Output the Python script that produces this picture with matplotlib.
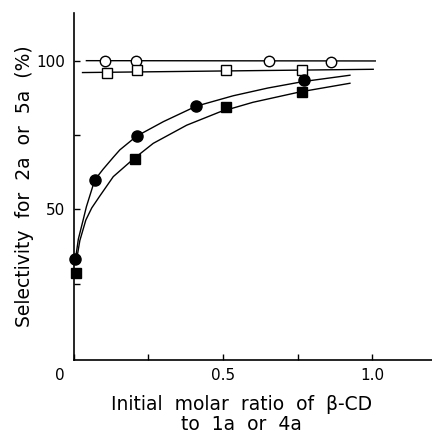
import matplotlib.pyplot as plt
from matplotlib.transforms import ScaledTranslation

# Measured points
open_circle_x = [0.104, 0.208, 0.654, 0.862]
open_circle_y = [100.0, 100.0, 99.9, 99.7]
open_square_x = [0.111, 0.210, 0.510, 0.765]
open_square_y = [96.0, 96.8, 96.8, 97.0]
filled_circle_x = [0.005, 0.07, 0.21, 0.41, 0.77]
filled_circle_y = [33.2, 59.9, 74.6, 84.7, 93.5]
filled_square_x = [0.007, 0.205, 0.51, 0.764]
filled_square_y = [28.7, 67.1, 84.5, 89.5]

# Drawn lines
circle_line_x = [0.042, 1.01]
circle_line_y = [100.0, 99.9]
square_line_x = [0.029, 1.003]
square_line_y = [96.0, 97.1]
upper_curve_x = [0.005, 0.015, 0.031, 0.042, 0.07, 0.098, 0.132, 0.154, 0.21,
                 0.30, 0.41, 0.534, 0.65, 0.77, 0.925]
upper_curve_y = [33.0, 40.0, 46.4, 50.9, 59.9, 63.5, 67.5, 70.0, 74.6,
                 79.5, 84.7, 88.2, 90.8, 93.0, 95.1]
lower_curve_x = [0.009, 0.02, 0.04, 0.06, 0.087, 0.132, 0.198, 0.266, 0.378,
                 0.49, 0.60, 0.758, 0.925]
lower_curve_y = [33.0, 39.5, 46.4, 50.5, 54.5, 61.0, 66.8, 72.2, 78.3,
                 82.8, 86.0, 89.5, 92.4]

fig = plt.figure(figsize=(4.32, 4.36), dpi=100)
ax = fig.add_axes([0.171, 0.174, 0.829, 0.796])

lw = 1.0
ax.plot(circle_line_x, circle_line_y, color="black", lw=lw, zorder=2)
ax.plot(square_line_x, square_line_y, color="black", lw=lw, zorder=2)
ax.plot(upper_curve_x, upper_curve_y, color="black", lw=lw, zorder=2)
ax.plot(lower_curve_x, lower_curve_y, color="black", lw=lw, zorder=2)

ax.plot(open_circle_x, open_circle_y, "o", ms=7.5, mfc="white", mec="black", mew=1.0, zorder=3)
ax.plot(open_square_x, open_square_y, "s", ms=6.5, mfc="white", mec="black", mew=1.0, zorder=3)
ax.plot(filled_circle_x, filled_circle_y, "o", ms=8, color="black", zorder=3, clip_on=False)
ax.plot(filled_square_x, filled_square_y, "s", ms=7, color="black", zorder=3, clip_on=False)

ax.set_xlim(0, 1.2)
ax.set_ylim(-0.7, 116)
ax.spines["top"].set_visible(False)
ax.spines["right"].set_visible(False)
ax.spines["left"].set_linewidth(1.2)
ax.spines["bottom"].set_linewidth(1.2)

ax.set_xticks([0, 0.25, 0.5, 0.75, 1.0])
ax.set_xticklabels(["0", "", "0.5", "", "1.0"])
ax.set_yticks([25, 50, 75, 100])
ax.set_yticklabels(["", "50", "", "100"])
ax.tick_params(direction="in", length=4, width=1, labelsize=11, pad=6)
# the "0" sits left of the axis corner
zero = ax.xaxis.get_major_ticks()[0].label1
zero.set_transform(zero.get_transform() + ScaledTranslation(-0.14, 0, fig.dpi_scale_trans))

ax.set_ylabel("Selectivity  for  2a  or  5a  (%)", fontsize=13.5)
ax.yaxis.set_label_coords(-0.11, 0.5)
ax.set_xlabel("Initial  molar  ratio  of  β-CD\nto  1a  or  4a", fontsize=13.5,
              linespacing=1.05)
ax.xaxis.set_label_coords(0.469, -0.1)
ax.xaxis.label.set_verticalalignment("top")

fig.savefig("out.png", dpi=100)
